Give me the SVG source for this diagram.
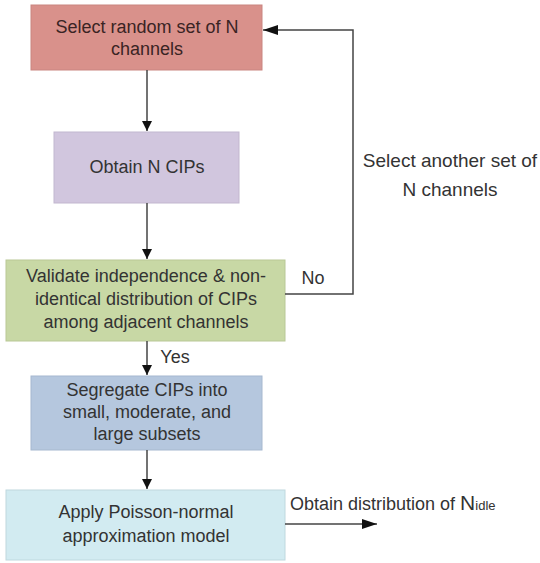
<svg xmlns="http://www.w3.org/2000/svg" width="540" height="563" viewBox="0 0 540 563">
<defs>
<marker id="ah" viewBox="0 0 10 10" refX="10" refY="5" markerWidth="10" markerHeight="10" markerUnits="userSpaceOnUse" orient="auto"><path d="M0,0 L10,5 L0,10 z" fill="#111"/></marker>
<marker id="ah2" viewBox="0 0 15 10" refX="15" refY="5" markerWidth="15" markerHeight="10" markerUnits="userSpaceOnUse" orient="auto"><path d="M0,0 L15,5 L0,10 z" fill="#111"/></marker>
</defs>
<style>
text{font-family:"Liberation Sans",Arial,sans-serif;font-size:18px;fill:#333;text-anchor:middle}
.l{text-anchor:start}
.box{stroke-width:1}
.c{fill:none;stroke:#444;stroke-width:1.5}
</style>
<rect width="540" height="563" fill="#fff"/>
<g id="n1"><rect class="box" x="31" y="5" width="231" height="65" fill="#d9918b" stroke="#c98580"/>
<text x="147" y="33" fill="#3a2424" style="fill:#3a2424">Select random set of N</text><text x="147" y="55" style="fill:#3a2424">channels</text></g>
<g id="n2"><rect class="box" x="54" y="132" width="185" height="71" fill="#d1c6de" stroke="#c2b7cf"/>
<text x="147" y="173">Obtain N CIPs</text></g>
<g id="n3"><rect class="box" x="6" y="260" width="279" height="81" fill="#c8d8a5" stroke="#b9c896"/>
<text x="146" y="282">Validate independence &amp; non-</text><text x="146" y="305">identical distribution of CIPs</text><text x="146" y="328">among adjacent channels</text></g>
<g id="n4"><rect class="box" x="31" y="376" width="231" height="74" fill="#b5c7de" stroke="#a6b8cf"/>
<text x="147" y="396">Segregate CIPs into</text><text x="147" y="418">small, moderate, and</text><text x="147" y="440">large subsets</text></g>
<g id="n5"><rect class="box" x="6" y="490" width="279" height="70" fill="#d2ebf1" stroke="#bfd8de"/>
<text x="146" y="518">Apply Poisson-normal</text><text x="146" y="542">approximation model</text></g>
<g id="connectors">
<line class="c" x1="147" y1="70" x2="147" y2="131" marker-end="url(#ah)"/>
<line class="c" x1="147" y1="203" x2="147" y2="259" marker-end="url(#ah)"/>
<line class="c" x1="147" y1="341" x2="147" y2="375" marker-end="url(#ah)"/>
<line class="c" x1="147" y1="450" x2="147" y2="489" marker-end="url(#ah)"/>
<polyline class="c" points="285,294 353,294 353,30 263,30" marker-end="url(#ah2)"/>
<line class="c" x1="285" y1="524" x2="377" y2="524" marker-end="url(#ah2)"/>
<text x="313" y="284">No</text>
<text x="175" y="363">Yes</text>
<text x="450" y="167" style="font-size:19px">Select another set of</text>
<text x="450" y="196" style="font-size:19px">N channels</text>
<text class="l" x="290" y="510">Obtain distribution of <tspan font-size="21">N</tspan><tspan font-size="13">idle</tspan></text>
</g>
</svg>
